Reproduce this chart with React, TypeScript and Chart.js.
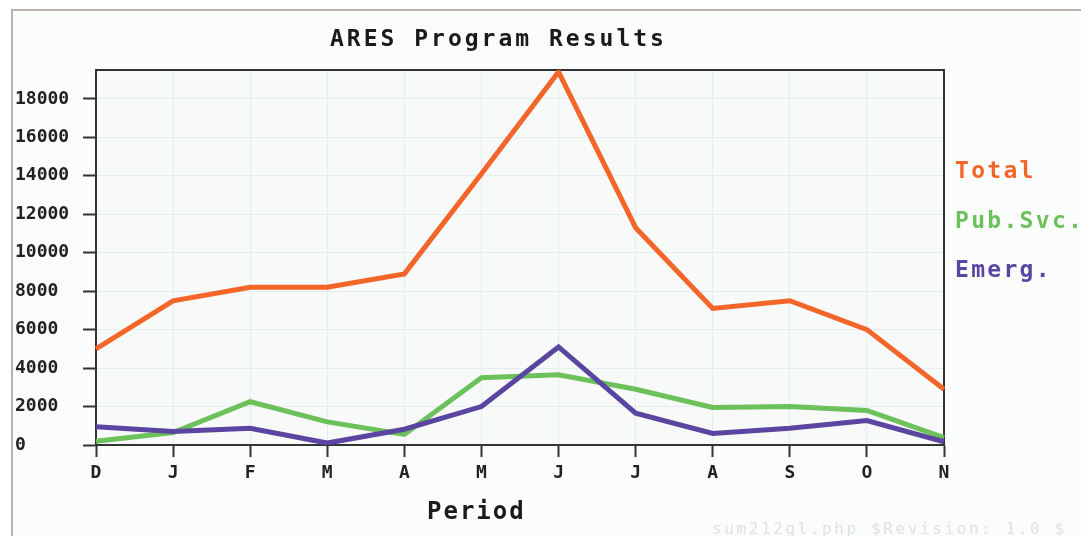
import React, { useEffect, useRef } from "react";
import { Chart, registerables } from "chart.js";

Chart.register(...registerables);

const chartTitle = "ARES Program Results";
const xAxisTitle = "Period";
const watermark = "sum212gl.php $Revision: 1.0 $";

const categories = ["D", "J", "F", "M", "A", "M", "J", "J", "A", "S", "O", "N"];
const totalValues = [5000, 7500, 8200, 8200, 8900, 14100, 19400, 11300, 7100, 7500, 6000, 2900];
const pubSvcValues = [200, 650, 2250, 1200, 550, 3500, 3650, 2900, 1950, 2000, 1800, 380];
const emergValues = [950, 700, 870, 100, 820, 2000, 5100, 1650, 600, 870, 1270, 170];
const yTickValues = [0, 2000, 4000, 6000, 8000, 10000, 12000, 14000, 16000, 18000];
const yMax = 19500;

const seriesNames = ["Total", "Pub.Svc.", "Emerg."];
const seriesColors = ["#f4652a", "#6cc15a", "#5a45a0"];

const MONO = '"DejaVu Sans Mono", "Liberation Mono", monospace';

const decorPlugin = {
  id: "decor",
  beforeDraw(chart: any) {
    const { ctx, width, height, chartArea } = chart;
    ctx.save();
    ctx.fillStyle = "#ffffff";
    ctx.fillRect(0, 0, width, height);
    ctx.fillStyle = "#fbfcfc";
    ctx.fillRect(12, 10, width - 12, height - 10);
    ctx.strokeStyle = "#b9b0a8";
    ctx.lineWidth = 2;
    ctx.beginPath();
    ctx.moveTo(12, height);
    ctx.lineTo(12, 10);
    ctx.lineTo(width, 10);
    ctx.stroke();
    ctx.fillStyle = "#f8fafa";
    ctx.fillRect(chartArea.left, chartArea.top, chartArea.right - chartArea.left, chartArea.bottom - chartArea.top);
    ctx.restore();
  },
  beforeDatasetsDraw(chart: any) {
    const { ctx, chartArea } = chart;
    ctx.save();
    ctx.strokeStyle = "#333333";
    ctx.lineWidth = 2;
    ctx.beginPath();
    ctx.moveTo(chartArea.left, chartArea.top);
    ctx.lineTo(chartArea.right, chartArea.top);
    ctx.lineTo(chartArea.right, chartArea.bottom);
    ctx.stroke();
    ctx.restore();
  },
  afterDraw(chart: any) {
    const { ctx } = chart;
    ctx.save();
    ctx.textAlign = "left";
    ctx.textBaseline = "alphabetic";
    ctx.fillStyle = "#1a1a1a";
    ctx.font = `bold 23px ${MONO}`;
    (ctx as any).letterSpacing = "3px";
    ctx.fillText(chartTitle, 330, 46);
    ctx.font = `bold 24px ${MONO}`;
    (ctx as any).letterSpacing = "2px";
    ctx.fillText(xAxisTitle, 427, 519);
    ctx.font = `bold 23px ${MONO}`;
    (ctx as any).letterSpacing = "2.3px";
    chart.data.datasets.forEach((ds: any, i: number) => {
      ctx.fillStyle = ds.borderColor;
      ctx.fillText(ds.label, 955, 178 + i * 49.5);
    });
    ctx.font = `16px ${MONO}`;
    (ctx as any).letterSpacing = "2.6px";
    ctx.fillStyle = "#dfe2e2";
    ctx.fillText(watermark, 712, 534);
    (ctx as any).letterSpacing = "0px";
    ctx.restore();
  },
};

export default function App() {
  const canvasRef = useRef<HTMLCanvasElement | null>(null);

  useEffect(() => {
    const canvas = canvasRef.current;
    if (!canvas) return;
    const valueSets = [totalValues, pubSvcValues, emergValues];
    const drawOrder = [0, 2, 1];
    const tickFont = { family: MONO, size: 18, weight: "bold" as const };
    const chart = new Chart(canvas, {
      type: "line",
      data: {
        labels: categories,
        datasets: seriesNames.map((name, i) => ({
          label: name,
          data: valueSets[i],
          borderColor: seriesColors[i],
          backgroundColor: seriesColors[i],
          borderWidth: 5,
          pointRadius: 0,
          tension: 0,
          fill: false,
          order: drawOrder[i],
        })),
      },
      options: {
        animation: false,
        responsive: false,
        devicePixelRatio: 1,
        layout: { padding: { left: 15, top: 70, right: 137, bottom: 0 } },
        plugins: {
          legend: { display: false },
          title: { display: false },
          tooltip: { enabled: false },
        },
        scales: {
          x: {
            type: "category",
            offset: false,
            grid: {
              color: "#e4eeee",
              lineWidth: 1,
              tickLength: 12,
              tickColor: "#333333",
              tickWidth: 2,
            },
            border: { color: "#333333", width: 2 },
            ticks: { font: tickFont, color: "#222222", padding: 6, maxRotation: 0, autoSkip: false },
            afterFit: (s: any) => {
              s.height = 91;
            },
          },
          y: {
            min: 0,
            max: yMax,
            grid: {
              color: "#e4eeee",
              lineWidth: 1,
              tickLength: 13,
              tickColor: "#333333",
              tickWidth: 2,
            },
            border: { color: "#333333", width: 2 },
            ticks: {
              font: tickFont,
              color: "#222222",
              crossAlign: "far",
              padding: 4,
              callback: (v: any) => String(v),
            },
            afterBuildTicks: (s: any) => {
              s.ticks = yTickValues.map((v) => ({ value: v }));
            },
            afterFit: (s: any) => {
              s.width = 81;
            },
          },
        },
      },
      plugins: [decorPlugin],
    } as any);
    return () => chart.destroy();
  }, []);

  return (
    <div style={{ position: "absolute", left: 0, top: 0, width: 1081, height: 536 }}>
      <canvas ref={canvasRef} width={1081} height={536} style={{ display: "block" }} />
    </div>
  );
}
